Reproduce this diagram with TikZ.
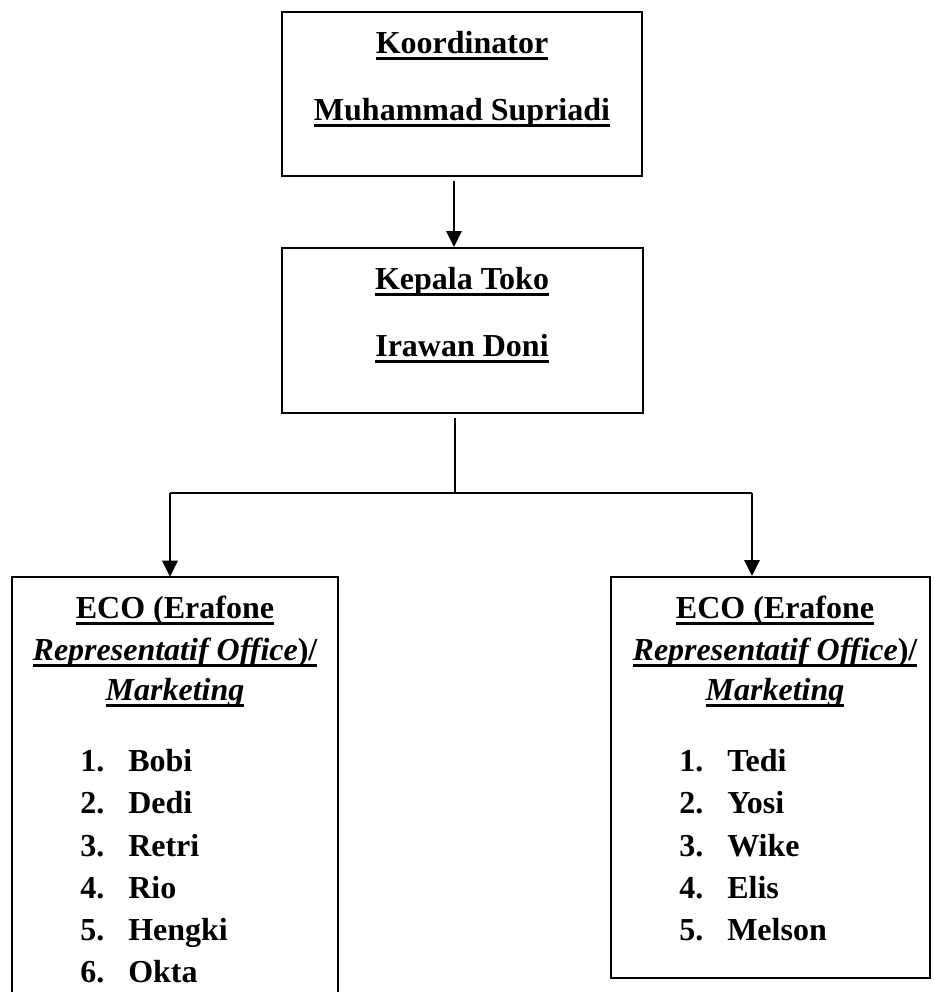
\documentclass[tikz,border=0pt]{standalone}
\usepackage{fontspec}
\setmainfont{Liberation Serif}
\usetikzlibrary{arrows.meta}
\newcommand{\myul}[1]{\setbox0\hbox{#1}\rlap{\rule[-4.9pt]{\wd0}{1.8pt}}\box0}
\begin{document}
\begin{tikzpicture}[x=0.75pt,y=-0.75pt,
  font=\fontsize{24}{28}\selectfont\bfseries,
  box/.style={draw,line width=1.5pt,inner sep=0pt},
  openbox/.style={inner sep=0pt},
  txt/.style={anchor=base,inner sep=0pt},
  itm/.style={anchor=base west,inner sep=0pt},
  conn/.style={line width=1.4pt},
  arr/.style={line width=1.4pt,-{Triangle[length=12pt,width=11.5pt]}}]
\useasboundingbox (0,0) rectangle (933,992);
% boxes
\node[box,minimum width=270pt,minimum height=123pt] (T) at (462,94) {};
\node[box,minimum width=270.75pt,minimum height=123.75pt] (K) at (462.5,330.5) {};
\node[openbox,minimum width=244.5pt,minimum height=315pt] (L) at (175,787) {};
\draw[line width=1.5pt] (L.south west) -- (L.north west) -- (L.north east) -- (L.south east);
\node[box,minimum width=239.25pt,minimum height=300.75pt] (R) at (770.5,777.5) {};
% connectors
\coordinate (A1) at (454,181);
\draw[arr] (A1) -- (A1 |- K.north);
\coordinate (S) at (455,418);
\coordinate (J) at (455,493);
\coordinate (LA) at (170,493);
\coordinate (RA) at (752,493);
\draw[conn] (S) -- (J);
\draw[conn] (LA) -- (RA);
\draw[arr] (LA) -- (LA |- L.north);
\draw[arr] (RA) -- (RA |- R.north);
% texts top
\node[txt] (t1) at (462,53) {\myul{Koordinator}};
\node[txt] (t2) at (462,120) {\myul{Muhammad Supriadi}};
\node[txt] (k1) at (462,289) {\myul{Kepala Toko}};
\node[txt] (k2) at (462,356) {\myul{Irawan Doni}};
% left box
\node[txt] (l1) at (175,618) {\myul{ECO (Erafone}};
\node[txt] (l2) at (175,660) {\myul{\textit{Representatif Office})/}};
\node[txt] (l3) at (175,700) {\myul{\textit{Marketing}}};
\foreach \n/\name/\y in {1/Bobi/771,2/Dedi/813,3/Retri/856,4/Rio/898,5/Hengki/940,6/Okta/982}{
  \node[itm] (ln\n) at (80,\y) {\n.};
  \node[itm] (lm\n) at (128,\y) {\name};
}
% right box
\node[txt] (r1) at (775,618) {\myul{ECO (Erafone}};
\node[txt] (r2) at (775,660) {\myul{\textit{Representatif Office})/}};
\node[txt] (r3) at (775,700) {\myul{\textit{Marketing}}};
\foreach \n/\name/\y in {1/Tedi/771,2/Yosi/813,3/Wike/856,4/Elis/898,5/Melson/940}{
  \node[itm] (rn\n) at (679,\y) {\n.};
  \node[itm] (rm\n) at (727,\y) {\name};
}
\end{tikzpicture}
\end{document}
